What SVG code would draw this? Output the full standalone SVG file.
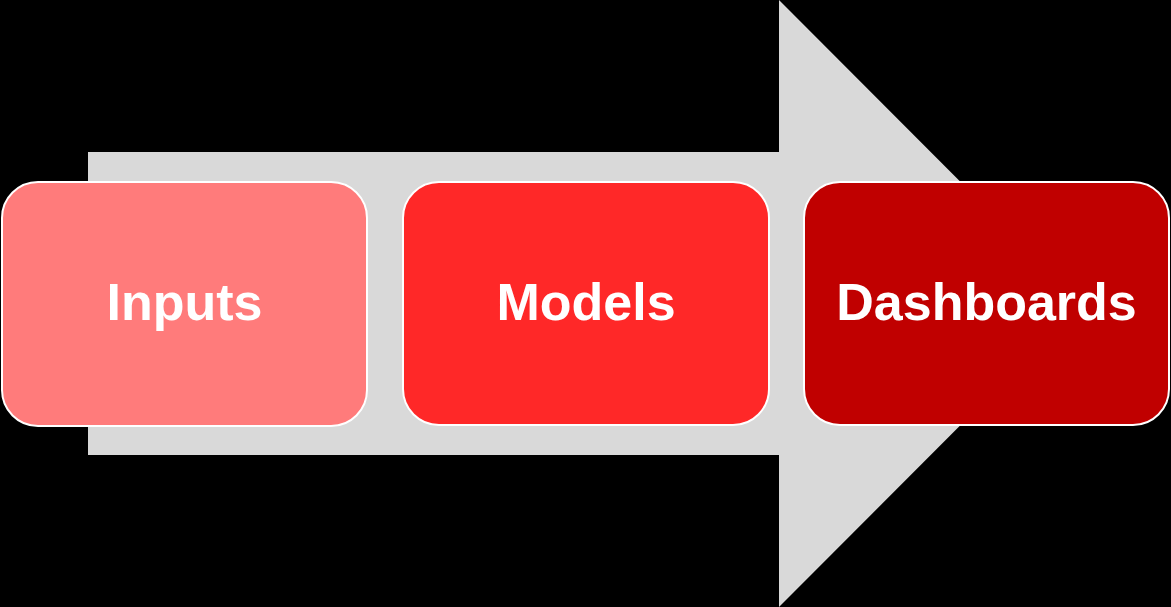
<svg xmlns="http://www.w3.org/2000/svg" width="1171" height="607" viewBox="0 0 1171 607">
<style>
.box{stroke:#ffffff;stroke-width:2}
.lbl{font-family:"Liberation Sans",Arial,sans-serif;font-weight:bold;font-size:52px;fill:#ffffff;text-anchor:middle}
</style>
<rect x="0" y="0" width="1171" height="607" fill="#000000"/>
<g id="connectors">
<polygon points="88,152 779,152 779,0 1082,303.5 779,607 779,455 88,455" fill="#d9d9d9"/>
</g>
<g id="inputs">
<rect class="box" x="2" y="182" width="365" height="244" rx="36" fill="#ff7b7b"/>
<text class="lbl" x="184.5" y="320">Inputs</text>
</g>
<g id="models">
<rect class="box" x="403" y="182" width="366" height="243" rx="36" fill="#ff2828"/>
<text class="lbl" x="586" y="320">Models</text>
</g>
<g id="dashboards">
<rect class="box" x="804" y="182" width="365" height="243" rx="36" fill="#c00000"/>
<text class="lbl" x="986.5" y="320">Dashboards</text>
</g>
</svg>
